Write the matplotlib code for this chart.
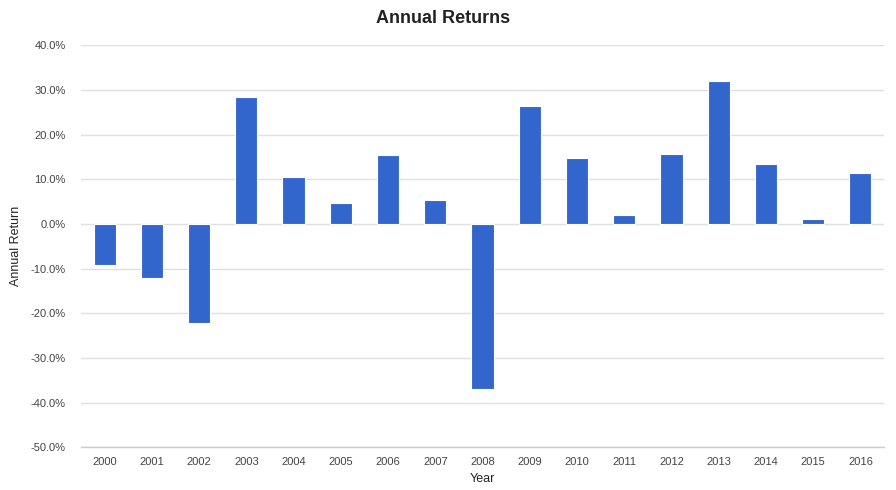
import matplotlib
matplotlib.use("Agg")
import matplotlib.pyplot as plt
from matplotlib.ticker import FuncFormatter, MultipleLocator

years = ["2000", "2001", "2002", "2003", "2004", "2005", "2006", "2007", "2008",
         "2009", "2010", "2011", "2012", "2013", "2014", "2015", "2016"]
returns = [-9.1, -12.0, -22.1, 28.4, 10.6, 4.6, 15.4, 5.3, -37.0,
           26.4, 14.8, 1.9, 15.7, 32.0, 13.4, 1.0, 11.5]

plt.rcParams['font.family'] = ['Liberation Sans', 'DejaVu Sans']

fig = plt.figure(figsize=(8.96, 4.9), dpi=100)
ax = fig.add_axes([0.0904, 0.0871, 0.8962, 0.8205])

x = range(len(years))
ax.bar(x, returns, width=0.47, color="#3366cc", edgecolor="white", linewidth=0.8, zorder=3)

ax.set_ylim(-50, 40)
ax.set_xlim(-0.5, len(years) - 0.5)
ax.yaxis.set_major_locator(MultipleLocator(10))
ax.yaxis.set_major_formatter(FuncFormatter(lambda v, p: f"{v:.1f}%"))
ax.set_xticks(list(x))
ax.set_xticklabels(years)

ax.grid(axis="y", color="#e0e0e0", linewidth=1, zorder=0)
ax.grid(axis="x", visible=False)
for s in ["top", "right", "left"]:
    ax.spines[s].set_visible(False)
ax.spines["bottom"].set_color("#c5cbe0")
ax.spines["bottom"].set_linewidth(1)
ax.tick_params(axis="both", length=0, labelsize=8, colors="#444444")
ax.tick_params(axis="y", pad=11)
ax.tick_params(axis="x", pad=7)

ax.set_xlabel("Year", fontsize=9, color="#222222", labelpad=4)
ax.set_ylabel("Annual Return", fontsize=9, color="#222222", labelpad=6)
fig.text(0.495, 0.962, "Annual Returns", ha="center", va="center",
         fontsize=13, fontweight="bold", color="#222222")

fig.savefig("out.png", dpi=100)
